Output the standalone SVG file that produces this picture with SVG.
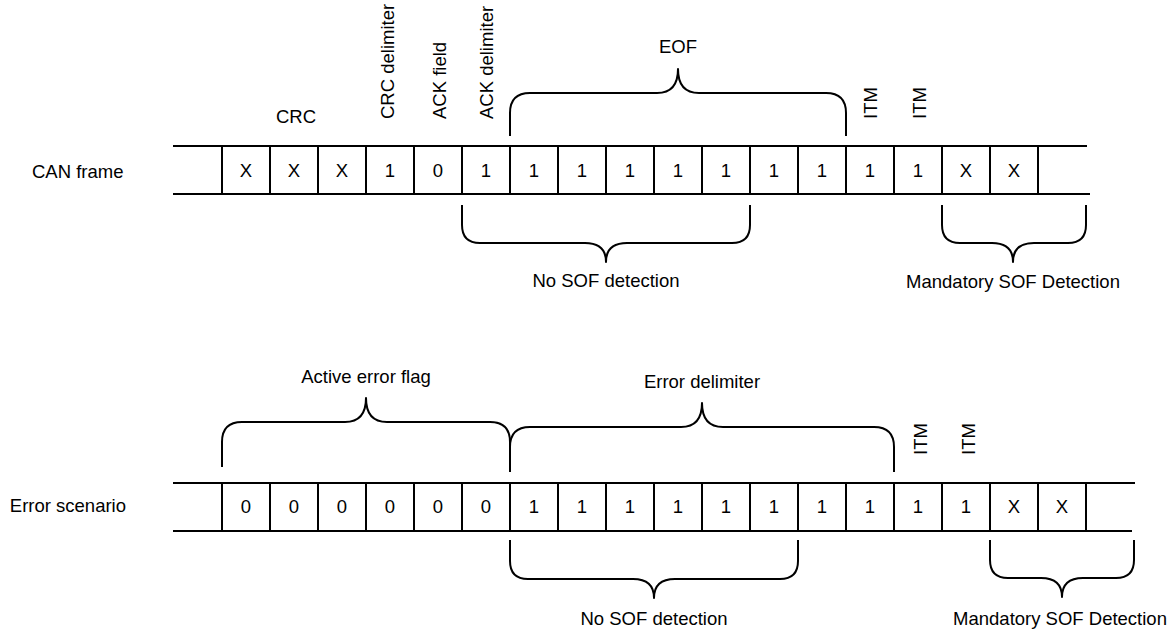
<svg xmlns="http://www.w3.org/2000/svg" width="1176" height="632" viewBox="0 0 1176 632">
<style>
text{font-family:"Liberation Sans",Arial,Helvetica,sans-serif;font-size:18.5px;fill:#000}
.c{text-anchor:middle}
.ln{stroke:#000;stroke-width:2;fill:none}
.br{stroke:#000;stroke-width:2;fill:none;stroke-linejoin:round}
</style>
<rect width="1176" height="632" fill="#fff"/>

<g id="can-frame">
  <text x="32" y="177.5">CAN frame</text>
  <path class="ln" d="M173,146H1087M173,194H1090"/>
  <path class="ln" d="M222,146V194M270,146V194M318,146V194M366,146V194M414,146V194M462,146V194M510,146V194M558,146V194M606,146V194M654,146V194M702,146V194M750,146V194M798,146V194M846,146V194M894,146V194M942,146V194M990,146V194M1038,146V194"/>
  <g class="c">
    <text x="246" y="176.5">X</text><text x="294" y="176.5">X</text><text x="342" y="176.5">X</text>
    <text x="390" y="176.5">1</text><text x="438" y="176.5">0</text><text x="486" y="176.5">1</text>
    <text x="534" y="176.5">1</text><text x="582" y="176.5">1</text><text x="630" y="176.5">1</text>
    <text x="678" y="176.5">1</text><text x="726" y="176.5">1</text><text x="774" y="176.5">1</text>
    <text x="822" y="176.5">1</text><text x="870" y="176.5">1</text><text x="918" y="176.5">1</text>
    <text x="966" y="176.5">X</text><text x="1014" y="176.5">X</text>
  </g>
</g>

<g id="can-frame-labels">
  <text class="c" x="296" y="123">CRC</text>
  <text transform="translate(394,119) rotate(-90)">CRC delimiter</text>
  <text transform="translate(446,119) rotate(-90)">ACK field</text>
  <text transform="translate(493,119) rotate(-90)">ACK delimiter</text>
  <text class="c" x="678" y="53">EOF</text>
  <text transform="translate(877,119) rotate(-90)">ITM</text>
  <text transform="translate(926,119) rotate(-90)">ITM</text>
  <text class="c" x="606" y="287">No SOF detection</text>
  <text class="c" x="1013" y="288">Mandatory SOF Detection</text>
</g>

<g id="error-scenario">
  <text x="126" y="512" text-anchor="end">Error scenario</text>
  <path class="ln" d="M173,483H1135M173,531H1132"/>
  <path class="ln" d="M222,483V531M270,483V531M318,483V531M366,483V531M414,483V531M462,483V531M510,483V531M558,483V531M606,483V531M654,483V531M702,483V531M750,483V531M798,483V531M846,483V531M894,483V531M942,483V531M990,483V531M1038,483V531M1086,483V531"/>
  <g class="c">
    <text x="246" y="513">0</text><text x="294" y="513">0</text><text x="342" y="513">0</text>
    <text x="390" y="513">0</text><text x="438" y="513">0</text><text x="486" y="513">0</text>
    <text x="534" y="513">1</text><text x="582" y="513">1</text><text x="630" y="513">1</text>
    <text x="678" y="513">1</text><text x="726" y="513">1</text><text x="774" y="513">1</text>
    <text x="822" y="513">1</text><text x="870" y="513">1</text><text x="918" y="513">1</text>
    <text x="966" y="513">1</text><text x="1014" y="513">X</text><text x="1062" y="513">X</text>
  </g>
</g>

<g id="error-scenario-labels">
  <text class="c" x="366" y="383">Active error flag</text>
  <text class="c" x="702" y="388">Error delimiter</text>
  <text transform="translate(927,455) rotate(-90)">ITM</text>
  <text transform="translate(975,455) rotate(-90)">ITM</text>
  <text class="c" x="654" y="625">No SOF detection</text>
  <text class="c" x="1060" y="625">Mandatory SOF Detection</text>
</g>

<g id="connectors">
  <path class="br" d="M510,136V113Q510,93 530,93H657Q678,93 678,69Q678,93 699,93H826Q846,93 846,113V136"/>
  <path class="br" d="M462,205V225Q462,243 480,243H585Q606,243 606,262Q606,243 627,243H732Q750,243 750,225V205"/>
  <path class="br" d="M942,205V225Q942,243 960,243H992Q1013,243 1013,262Q1013,243 1034,243H1068Q1086,243 1086,225V205"/>
  <path class="br" d="M222,467V442Q222,422 242,422H345Q366,422 366,398Q366,422 387,422H490Q510,422 510,442V472"/>
  <path class="br" d="M510,472V447Q510,427 530,427H681Q702,427 702,403Q702,427 723,427H874Q894,427 894,447V472"/>
  <path class="br" d="M510,540V561Q510,579 528,579H633Q654,579 654,598Q654,579 675,579H780Q798,579 798,561V540"/>
  <path class="br" d="M990,540V560Q990,578 1008,578H1041Q1062,578 1062,597Q1062,578 1083,578H1116Q1134,578 1134,560V540"/>
</g>
</svg>
